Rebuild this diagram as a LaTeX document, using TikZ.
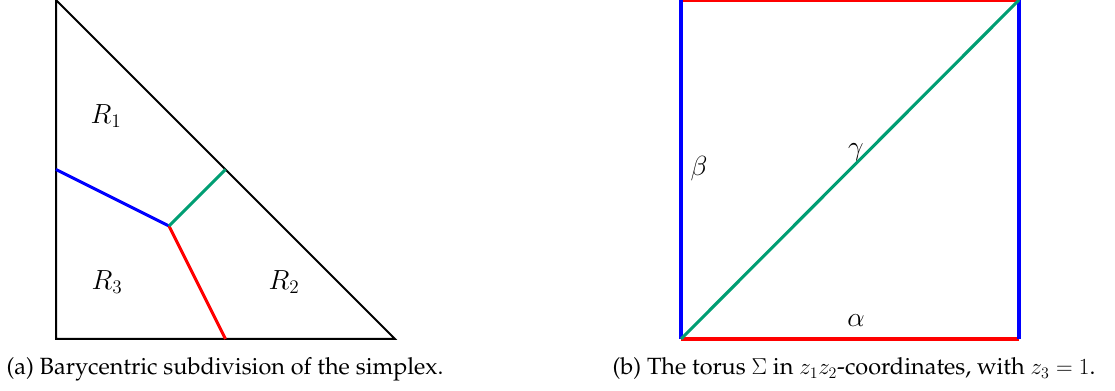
\documentclass[tikz,border=0pt]{standalone}
\usepackage{tikz}
\definecolor{myblue}{RGB}{0,0,255}
\definecolor{myred}{RGB}{255,0,0}
\definecolor{mygreen}{RGB}{0,158,115}
\newcommand{\capfont}{\fontencoding{OT1}\fontfamily{ppl}\fontsize{17.6}{21}\selectfont}
\tikzset{
  edge/.style={line width=1.5pt, black},
  bl/.style={line width=2.3pt, myblue},
  rd/.style={line width=2.3pt, myred},
  gr/.style={line width=2.3pt, mygreen},
  lab/.style={inner sep=0pt, font=\fontsize{21}{25}\selectfont},
  capt/.style={inner sep=0pt, font=\capfont, anchor=base}
}
\begin{document}
\begin{tikzpicture}[x=0.75pt, y=-0.75pt]
\useasboundingbox (0,0) rectangle (1115,391);
% triangle
\coordinate (A) at (56,0);
\coordinate (B) at (56,339);
\coordinate (C) at (395,339);
\coordinate (mAB) at (56,169.5);
\coordinate (mAC) at (225.5,169.5);
\coordinate (mBC) at (225.5,339);
\coordinate (G) at (169,226);
\draw[edge, line join=miter] (A) -- (B) -- (C) -- cycle;
\draw[bl] (mAB) -- (G);
\draw[rd] (G) -- (mBC);
\draw[gr] (G) -- (mAC);
\node[lab] (r1) at (106,116) {$R_1$};
\node[lab] (r3) at (107,282) {$R_3$};
\node[lab] (r2) at (284,282) {$R_2$};
\node[capt] (ca) at (225,375) {(a) Barycentric subdivision of the simplex.};
% square
\coordinate (P) at (681,339);
\coordinate (Q) at (1019,339);
\coordinate (S) at (1019,0);
\coordinate (T) at (681,0);
\draw[rd] (T) -- (S);
\draw[rd] (P) -- (Q);
\draw[bl] (P) -- (T);
\draw[bl] (Q) -- (S);
\draw[gr] (P) -- (S);
\node[lab] (beta) at (699,169) {$\beta$};
\node[lab] (gamma) at (856,152) {$\gamma$};
\node[lab] (alpha) at (856,321) {$\alpha$};
\node[capt] (cb) at (854,375) {(b) The torus $\Sigma$ in $z_1z_2$-coordinates, with $z_3=1$.};
\end{tikzpicture}
\end{document}
